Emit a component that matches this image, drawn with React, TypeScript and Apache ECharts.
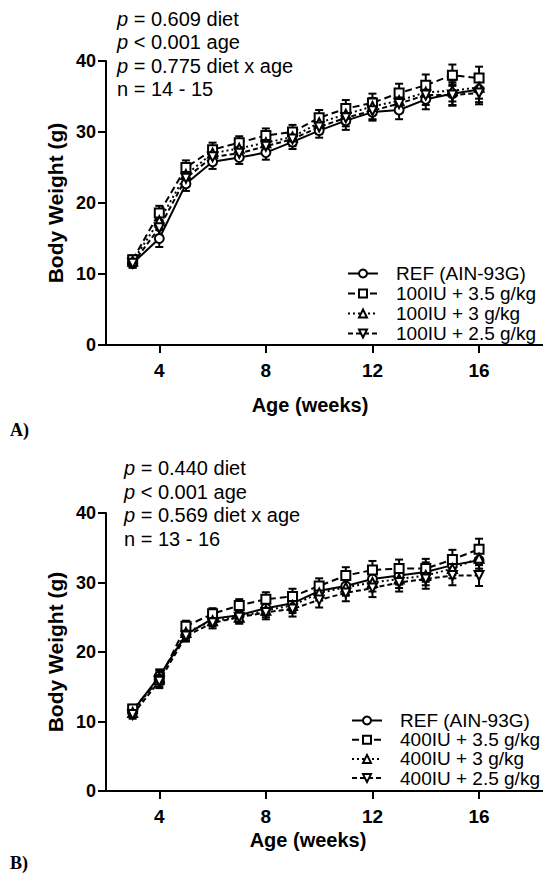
import React, { useEffect, useRef } from "react";
import * as echarts from "echarts";

const weeks = [3, 4, 5, 6, 7, 8, 9, 10, 11, 12, 13, 14, 15, 16];
const xTicks = [4, 8, 12, 16];

const namesA = ["REF (AIN-93G)", "100IU + 3.5 g/kg", "100IU + 3 g/kg", "100IU + 2.5 g/kg"];
const refA = [11.5, 15.0, 22.7, 25.8, 26.4, 27.1, 28.6, 30.2, 31.6, 32.8, 33.1, 34.6, 35.4, 36.0];
const hi35A = [12.0, 18.6, 25.0, 27.5, 28.5, 29.5, 30.0, 32.0, 33.3, 34.1, 35.5, 36.6, 38.0, 37.6];
const hi3A = [11.8, 17.5, 24.0, 27.0, 27.7, 28.5, 29.3, 31.3, 32.5, 33.6, 34.4, 35.6, 35.8, 36.3];
const hi25A = [11.5, 16.5, 23.5, 26.5, 27.0, 28.0, 29.0, 30.7, 32.0, 33.0, 34.0, 35.2, 35.2, 35.5];
const refAErr = [0.6, 1.2, 1.0, 1.0, 0.9, 1.0, 1.0, 1.0, 1.3, 1.2, 1.3, 1.4, 1.6, 1.8];
const hi35AErr = [0.6, 1.0, 1.0, 1.0, 0.9, 1.0, 1.0, 1.1, 1.2, 1.3, 1.3, 1.5, 1.5, 1.6];
const hi3AErr = [0.6, 1.1, 1.0, 1.0, 0.9, 1.0, 1.0, 1.0, 1.2, 1.2, 1.3, 1.4, 1.5, 1.6];
const hi25AErr = [0.6, 1.1, 1.0, 1.0, 0.9, 1.0, 1.0, 1.0, 1.2, 1.2, 1.3, 1.4, 1.5, 1.6];

const namesB = ["REF (AIN-93G)", "400IU + 3.5 g/kg", "400IU + 3 g/kg", "400IU + 2.5 g/kg"];
const refB = [11.5, 16.5, 22.5, 24.8, 25.3, 26.3, 27.0, 28.8, 29.5, 30.5, 31.0, 31.5, 32.5, 33.2];
const hi35B = [11.8, 16.0, 23.7, 25.5, 26.7, 27.6, 28.0, 29.5, 31.0, 31.8, 32.0, 32.0, 33.3, 34.8];
const hi3B = [11.3, 16.3, 22.8, 24.5, 25.0, 26.0, 26.7, 28.5, 29.3, 30.0, 30.5, 31.0, 32.0, 33.5];
const hi25B = [11.0, 15.8, 22.3, 24.2, 25.0, 25.7, 26.2, 27.5, 28.5, 29.2, 30.0, 30.5, 31.0, 31.0];
const refBErr = [0.6, 1.0, 0.8, 0.8, 0.9, 1.0, 1.1, 1.1, 1.2, 1.3, 1.3, 1.4, 1.4, 1.5];
const hi35BErr = [0.6, 1.0, 0.8, 0.8, 0.9, 1.0, 1.1, 1.1, 1.2, 1.3, 1.3, 1.4, 1.4, 1.5];
const hi3BErr = [0.6, 1.0, 0.8, 0.8, 0.9, 1.0, 1.1, 1.1, 1.2, 1.3, 1.3, 1.4, 1.4, 1.5];
const hi25BErr = [0.6, 1.0, 0.8, 0.8, 0.9, 1.0, 1.1, 1.1, 1.2, 1.3, 1.3, 1.4, 1.4, 1.5];

const statsA = ["{i|p} = 0.609 diet", "{i|p} < 0.001 age", "{i|p} = 0.775 diet x age", "n = 14 - 15"];
const statsB = ["{i|p} = 0.440 diet", "{i|p} < 0.001 age", "{i|p} = 0.569 diet x age", "n = 13 - 16"];

const FONT = '"Liberation Sans", Arial, sans-serif';

const styles = [
  { symbol: "circle", rotate: 0, dash: "solid" as any },
  { symbol: "rect", rotate: 0, dash: [7, 4] as any },
  { symbol: "triangle", rotate: 0, dash: [2, 3] as any },
  { symbol: "triangle", rotate: 180, dash: [5, 3] as any },
];

function lineSeries(name: string, vals: number[], idx: number, k: number) {
  const st = styles[k];
  return {
    type: "line",
    name,
    xAxisIndex: idx,
    yAxisIndex: idx,
    data: weeks.map((w, i) => [w, vals[i]]),
    symbol: st.symbol,
    symbolRotate: st.rotate,
    symbolSize: 9,
    showAllSymbol: true,
    lineStyle: { color: "#000", width: 2, type: st.dash },
    itemStyle: { color: "#fff", borderColor: "#000", borderWidth: 2 },
    z: 3,
  };
}

function errSeries(name: string, vals: number[], errs: number[], idx: number) {
  return {
    type: "custom",
    name: "err " + name + idx,
    xAxisIndex: idx,
    yAxisIndex: idx,
    data: weeks.map((w, i) => [w, vals[i], errs[i]]),
    encode: { x: 0, y: 1 },
    z: 2,
    renderItem: (params: any, api: any) => {
      const x = api.value(0);
      const y = api.value(1);
      const e = api.value(2);
      const t = api.coord([x, y + e]);
      const b = api.coord([x, y - e]);
      const w = 4;
      const s = { stroke: "#000", lineWidth: 2 };
      return {
        type: "group",
        children: [
          { type: "line", shape: { x1: t[0], y1: t[1], x2: b[0], y2: b[1] }, style: s },
          { type: "line", shape: { x1: t[0] - w, y1: t[1], x2: t[0] + w, y2: t[1] }, style: s },
          { type: "line", shape: { x1: b[0] - w, y1: b[1], x2: b[0] + w, y2: b[1] }, style: s },
        ],
      };
    },
  };
}

function xAxis(idx: number) {
  return {
    type: "value",
    gridIndex: idx,
    min: 2,
    max: 18.4,
    axisLine: { lineStyle: { color: "#000", width: 2 } },
    axisTick: { customValues: xTicks, length: 8, lineStyle: { color: "#000", width: 2 } },
    axisLabel: {
      customValues: xTicks,
      color: "#000",
      fontSize: 19,
      fontWeight: "bold",
      fontFamily: FONT,
      margin: 16,
    },
    splitLine: { show: false },
  };
}

function yAxis(idx: number) {
  return {
    type: "value",
    gridIndex: idx,
    min: 0,
    max: 40,
    interval: 10,
    axisLine: { show: true, lineStyle: { color: "#000", width: 2 } },
    axisTick: { show: true, length: 8, lineStyle: { color: "#000", width: 2 } },
    axisLabel: {
      color: "#000",
      fontSize: 18,
      fontWeight: "bold",
      fontFamily: FONT,
      margin: 10,
    },
    splitLine: { show: false },
  };
}

function legend(names: string[], left: number, top: number, gap: number) {
  return {
    orient: "vertical",
    left,
    top,
    data: names,
    itemWidth: 30,
    itemHeight: 10,
    itemGap: gap,
    selectedMode: false,
    textStyle: {
      color: "#000",
      fontSize: 19,
      fontFamily: FONT,
      padding: [0, 0, 0, 13],
    },
  };
}

function statTexts(lines: string[], left: number, top0: number, step: number) {
  return lines.map((t, i) => ({
    type: "text",
    left,
    top: top0 + i * step,
    style: {
      text: t,
      fontSize: 20,
      fontFamily: FONT,
      fill: "#000",
      rich: { i: { fontStyle: "italic", fontSize: 20, fontFamily: FONT } },
    },
  }));
}

export default function App() {
  const ref = useRef<HTMLDivElement>(null);
  useEffect(() => {
    if (!ref.current) return;
    const chart = echarts.init(ref.current, null, { renderer: "svg" });
    const valsA = [refA, hi35A, hi3A, hi25A];
    const errsA = [refAErr, hi35AErr, hi3AErr, hi25AErr];
    const valsB = [refB, hi35B, hi3B, hi25B];
    const errsB = [refBErr, hi35BErr, hi3BErr, hi25BErr];
    const series: any[] = [];
    namesA.forEach((n, k) => series.push(errSeries(n, valsA[k], errsA[k], 0)));
    namesB.forEach((n, k) => series.push(errSeries(n, valsB[k], errsB[k], 1)));
    namesA.forEach((n, k) => series.push(lineSeries(n, valsA[k], 0, k)));
    namesB.forEach((n, k) => series.push(lineSeries(n, valsB[k], 1, k)));

    const option: any = {
      animation: false,
      backgroundColor: "#fff",
      grid: [
        { left: 106, top: 61, width: 437, height: 284 },
        { left: 106, top: 513, width: 437, height: 278 },
      ],
      xAxis: [xAxis(0), xAxis(1)],
      yAxis: [yAxis(0), yAxis(1)],
      legend: [legend(namesA, 342, 259, 1.0), legend(namesB, 346, 706, 0.2)],
      series,
      graphic: [
        ...statTexts(statsA, 117, 9, 23.3),
        ...statTexts(statsB, 124, 458, 23.5),
        {
          type: "text",
          x: 310,
          y: 405,
          style: { text: "Age (weeks)", fontSize: 20, fontWeight: "bold", fontFamily: FONT, fill: "#000", align: "center", verticalAlign: "middle" },
        },
        {
          type: "text",
          x: 308,
          y: 840,
          style: { text: "Age (weeks)", fontSize: 20, fontWeight: "bold", fontFamily: FONT, fill: "#000", align: "center", verticalAlign: "middle" },
        },
        {
          type: "text",
          x: 55,
          y: 203,
          rotation: Math.PI / 2,
          style: { text: "Body Weight (g)", fontSize: 21, fontWeight: "bold", fontFamily: FONT, fill: "#000", align: "center", verticalAlign: "middle" },
        },
        {
          type: "text",
          x: 55,
          y: 652,
          rotation: Math.PI / 2,
          style: { text: "Body Weight (g)", fontSize: 21, fontWeight: "bold", fontFamily: FONT, fill: "#000", align: "center", verticalAlign: "middle" },
        },
        {
          type: "text",
          left: 10,
          top: 421,
          style: { text: "A)", fontSize: 18, fontWeight: "bold", fontFamily: '"Liberation Serif", "Times New Roman", serif', fill: "#000" },
        },
        {
          type: "text",
          left: 10,
          top: 854,
          style: { text: "B)", fontSize: 18, fontWeight: "bold", fontFamily: '"Liberation Serif", "Times New Roman", serif', fill: "#000" },
        },
      ],
    };
    chart.setOption(option);
    return () => chart.dispose();
  }, []);
  return <div ref={ref} style={{ position: "absolute", left: 0, top: 0, width: 543, height: 875 }} />;
}
